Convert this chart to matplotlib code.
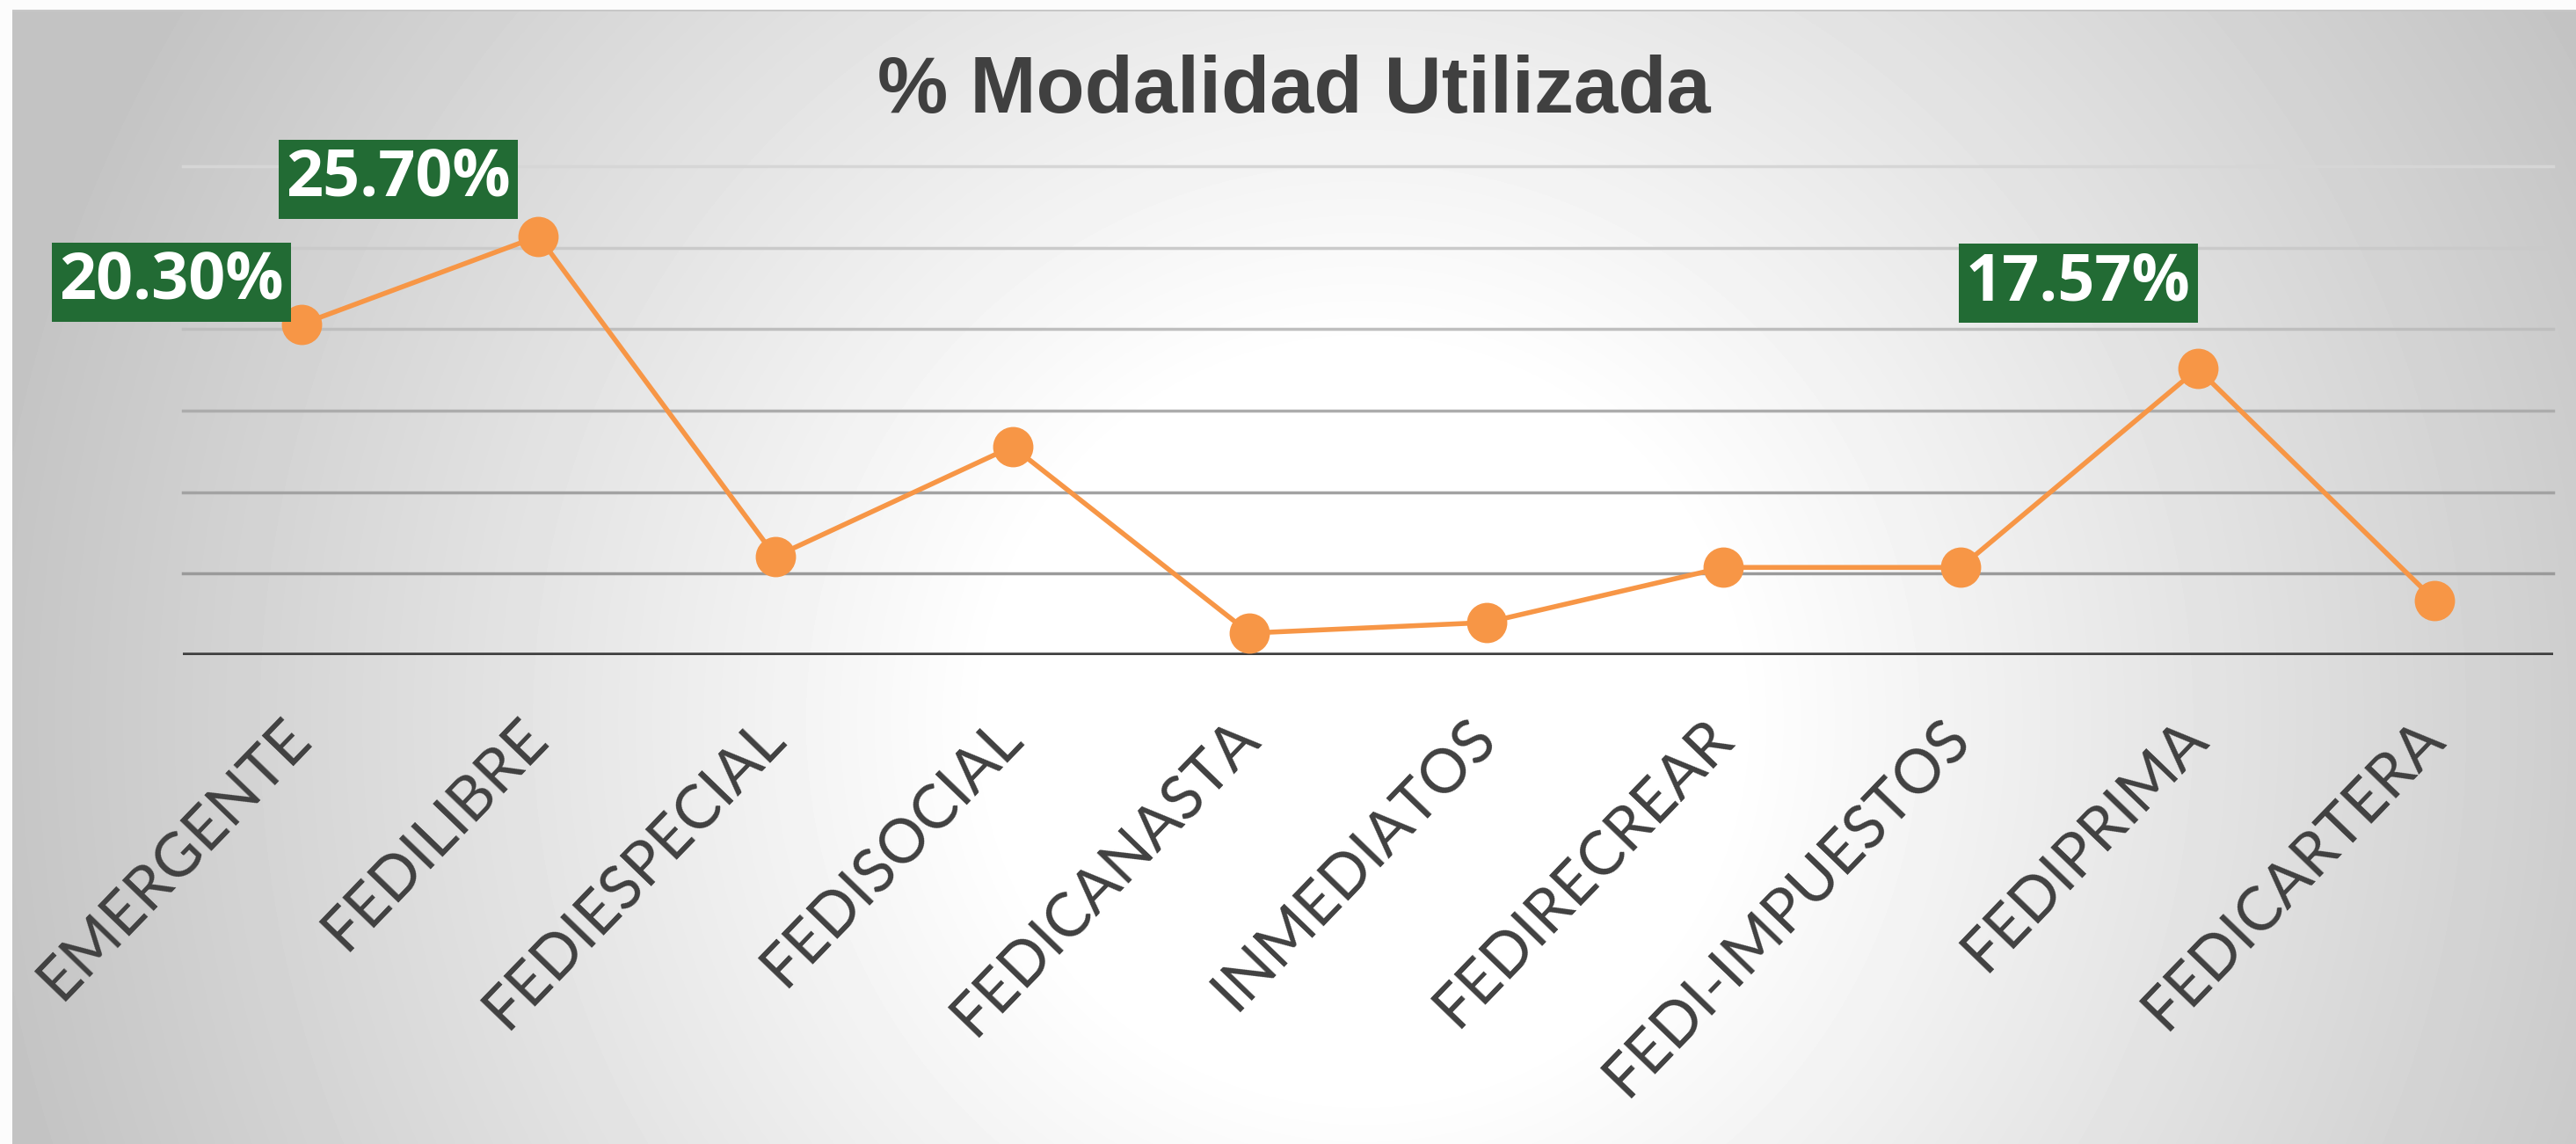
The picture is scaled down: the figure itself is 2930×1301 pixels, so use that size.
# Grafica de linea: % Modalidad Utilizada
import numpy as np
import matplotlib.pyplot as plt

# Datos
categorias = ['EMERGENTE', 'FEDILIBRE', 'FEDIESPECIAL', 'FEDISOCIAL', 'FEDICANASTA',
              'INMEDIATOS', 'FEDIRECREAR', 'FEDI-IMPUESTOS', 'FEDIPRIMA', 'FEDICARTERA']
porcentaje = [20.30, 25.70, 6.05, 12.80, 1.35, 2.00, 5.38, 5.38, 17.57, 3.37]

# Solo tres puntos llevan etiqueta
etiquetas = {0: '20.30%', 1: '25.70%', 8: '17.57%'}

ticks_y = [0, 5, 10, 15, 20, 25, 30]

# estilos
naranja = '#F79646'
verde = '#226B34'
gris_texto = '#404040'
colores_grid = ['#9a9a9a', '#a2a2a2', '#acacac', '#bebebe', '#cacaca', '#d6d6d6']
desplaz = {0: (-148, 48), 1: (-159, 65), 8: (-136, 97)}

W, H = 2930, 1301
fig = plt.figure(figsize=(W / 100, H / 100), dpi=100)

# Fondo con degradado radial (blanco al centro, gris en los bordes)
yy, xx = np.mgrid[0:H, 0:W]
r = np.hypot(xx - 1550, yy - 820)
t = np.clip((r - 420) / 1150, 0, 1)
fondo = 1 - t * (1 - 196 / 255)
fondo[:11, :] = 0.985
fondo[:, :14] = 0.985
fondo[11:13, 14:] = 0.78

ax_bg = fig.add_axes([0, 0, 1, 1], zorder=-1)
ax_bg.imshow(fondo, cmap='gray', vmin=0, vmax=1, aspect='auto', interpolation='nearest')
ax_bg.axis('off')

# Area de la grafica
ax = fig.add_axes([208 / W, 1 - 745 / H, 2696 / W, 556 / H])
ax.set_facecolor('none')
for s in ax.spines.values():
    s.set_visible(False)

ax.set_xlim(-0.5, len(categorias) - 0.5)
ax.set_ylim(0, 30)
ax.set_yticks(ticks_y)
ax.set_yticklabels([])
ax.tick_params(axis='y', length=0)

# lineas de cuadricula
for y, c in zip(ticks_y[1:], colores_grid):
    ax.axhline(y, color=c, lw=2.5, zorder=1, clip_on=False)
ax.axhline(0, color=gris_texto, lw=4, zorder=2)

x = np.arange(len(categorias))
ax.plot(x, porcentaje, color=naranja, lw=4, marker='o', ms=32, zorder=5, clip_on=False)

ax.set_xticks(x)
ax.set_xticklabels(categorias, rotation=46, ha='right', va='center', rotation_mode='anchor',
                   fontsize=50, family='Lato', color=gris_texto)
ax.tick_params(axis='x', length=0, pad=60)

# Etiquetas de datos
for i, txt in etiquetas.items():
    ax.annotate(txt, (x[i], porcentaje[i]), xytext=desplaz[i], textcoords='offset pixels',
                ha='center', va='center', fontsize=53, fontweight='bold', color='white',
                family='Open Sans', zorder=6,
                bbox=dict(boxstyle='square,pad=0.11', fc=verde, ec='none'))

# Titulo
fig.text(1472 / W, 1 - 128 / H, '% Modalidad Utilizada', ha='center', va='baseline',
         fontsize=65, fontweight='bold', family='Liberation Sans', color=gris_texto)

fig.savefig('out.png', dpi=100)
